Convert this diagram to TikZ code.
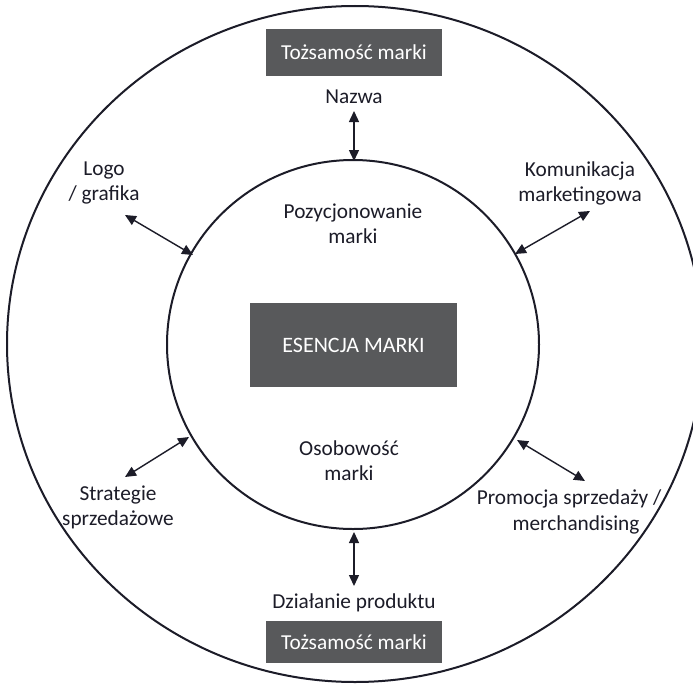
\documentclass[tikz,border=0pt]{standalone}
\usepackage{fontspec}
\setmainfont{Carlito}
\usetikzlibrary{arrows.meta}
\definecolor{ink}{HTML}{1C1C28}
\definecolor{boxgray}{HTML}{58595B}
\tikzset{
  ring/.style={draw=ink, line width=2pt},
  label/.style={text=ink, align=center, font=\fontsize{21.3}{25}\selectfont, inner sep=0pt},
  darkbox/.style={fill=boxgray, text=white, inner sep=0pt, font=\fontsize{21.3}{25}\selectfont},
  link/.style={draw=ink, line width=1.4pt, {Triangle[width=10pt,length=11pt]}-{Triangle[width=10pt,length=11pt]}}
}
\begin{document}
\begin{tikzpicture}[x=1pt,y=-1pt]
  \clip (0,0) rectangle (693,685);
  \fill[white] (0,0) rectangle (693,685);

  % rings
  \draw[ring] (355,344) ellipse [x radius=348, y radius=338];
  \draw[ring] (353,344.5) ellipse [x radius=186, y radius=184.5];

  % dark boxes
  \node[darkbox, minimum width=176pt, minimum height=47pt] (topbox) at (354,52.5) {Tożsamość marki};
  \node[darkbox, minimum width=176pt, minimum height=42pt] (botbox) at (354,642) {Tożsamość marki};
  \node[darkbox, minimum width=207pt, minimum height=84pt, font=\fontsize{22}{26}\selectfont] (core) at (353.5,345) {ESENCJA MARKI};

  % labels
  \node[label] (nazwa) at (354,97) {Nazwa};
  \node[label] (logo) at (104,183) {Logo\\/ grafika};
  \node[label] (komu) at (580,183) {Komunikacja\\marketingowa};
  \node[label] (pozy) at (353,224) {Pozycjonowanie\\marki};
  \node[label] (osob) at (349,461) {Osobowość\\marki};
  \node[label] (strat) at (118,507) {Strategie\\sprzedażowe};
  \node[label] (promo1) at (569,499) {Promocja sprzedaży /};
  \node[label] (promo2) at (576,525) {merchandising};
  \node[label] (dzial) at (354,603) {Działanie produktu};

  % connector ends
  \coordinate (nA) at (354,111);   \coordinate (nB) at (354,161);
  \coordinate (dA) at (354,586);   \coordinate (dB) at (354,532);
  \coordinate (lA) at (125,215);   \coordinate (lB) at (193,255);
  \coordinate (kA) at (590,211);   \coordinate (kB) at (515,254);
  \coordinate (sA) at (125,477);   \coordinate (sB) at (189,437);
  \coordinate (pA) at (585,481);   \coordinate (pB) at (517,440);

  \draw[link] (nA) -- (nB);
  \draw[link] (dA) -- (dB);
  \draw[link] (lA) -- (lB);
  \draw[link] (kA) -- (kB);
  \draw[link] (sA) -- (sB);
  \draw[link] (pA) -- (pB);
\end{tikzpicture}
\end{document}
